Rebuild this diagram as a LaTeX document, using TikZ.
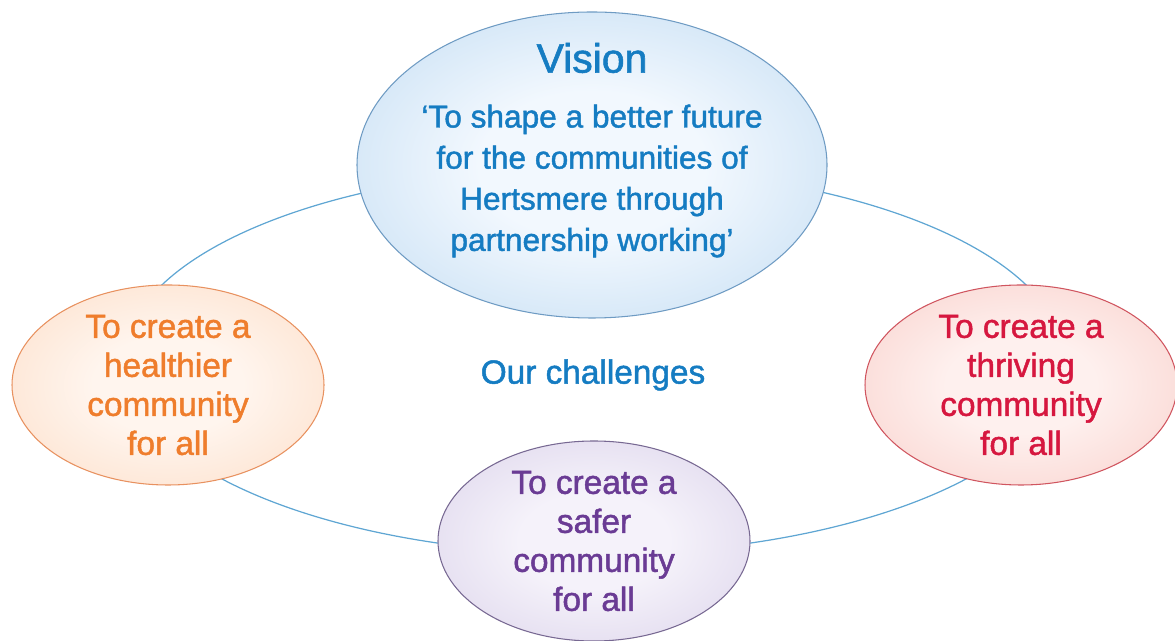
\documentclass[tikz,border=0pt]{standalone}
\usepackage{fontspec}
\setmainfont{Liberation Sans}[FakeBold=1.4]
\usetikzlibrary{shapes.geometric}

\definecolor{ringblue}{HTML}{5FA6D3}
\definecolor{visionblue}{HTML}{157CC2}
\definecolor{visionin}{HTML}{F2F8FE}
\definecolor{visionout}{HTML}{A6CCEC}
\definecolor{visionline}{HTML}{6E9BC3}
\definecolor{healthtext}{HTML}{EF7D2C}
\definecolor{healthin}{HTML}{FFF5EE}
\definecolor{healthout}{HTML}{FBD1B2}
\definecolor{healthline}{HTML}{E8915F}
\definecolor{thrivetext}{HTML}{D6173F}
\definecolor{thrivein}{HTML}{FEF0EE}
\definecolor{thriveout}{HTML}{F6BFB8}
\definecolor{thriveline}{HTML}{D0555F}
\definecolor{safetext}{HTML}{6A3B94}
\definecolor{safein}{HTML}{F5F2FA}
\definecolor{safeout}{HTML}{CDC2E2}
\definecolor{safeline}{HTML}{776892}

\pgfdeclareradialshading{visionglow}{\pgfpoint{0bp}{0bp}}{color(0bp)=(visionin); color(12bp)=(visionin); color(50bp)=(visionout)}
\pgfdeclareradialshading{healthglow}{\pgfpoint{0bp}{0bp}}{color(0bp)=(healthin); color(12bp)=(healthin); color(50bp)=(healthout)}
\pgfdeclareradialshading{thriveglow}{\pgfpoint{0bp}{0bp}}{color(0bp)=(thrivein); color(12bp)=(thrivein); color(50bp)=(thriveout)}
\pgfdeclareradialshading{safeglow}{\pgfpoint{0bp}{0bp}}{color(0bp)=(safein); color(12bp)=(safein); color(50bp)=(safeout)}

\begin{document}
\begin{tikzpicture}
    % Stili
    \tikzstyle{ring}=[ellipse, draw=ringblue, line width=0.7pt, inner sep=0pt, minimum width=18.8cm, minimum height=7.72cm]
    \tikzstyle{bubble}=[ellipse, line width=0.6pt, inner sep=0pt, minimum width=6.24cm, minimum height=4cm]
    \tikzstyle{visionbox}=[bubble, draw=visionline, shading=visionglow, minimum width=9.4cm, minimum height=6.12cm]
    \tikzstyle{healthbox}=[bubble, draw=healthline, shading=healthglow]
    \tikzstyle{thrivebox}=[bubble, draw=thriveline, shading=thriveglow]
    \tikzstyle{safebox}=[bubble, draw=safeline, shading=safeglow]
    \tikzstyle{goal}=[align=center, inner sep=0pt, font=\fontsize{19}{22.2}\selectfont]

    \useasboundingbox (0,0) rectangle (23.5,12.82);

    % Anello delle sfide
    \node[ring] (ring) at (11.88,5.6) {};

    % Ellissi
    \node[visionbox] (vision) at (11.84,9.52) {};
    \node[healthbox] (health) at (3.36,5.12) {};
    \node[thrivebox] (thrive) at (20.42,5.12) {};
    \node[safebox] (safe) at (11.88,2.0) {};

    % Testi
    \node[text=visionblue, inner sep=0pt, font=\fontsize{23.3}{28}\selectfont] (visiontitle) at (11.84,11.66) {Vision};
    \node[goal, text=visionblue, font=\fontsize{18}{23.4}\selectfont] (visiontext) at (11.84,9.2) {‘To shape a better future\\for the communities of\\Hertsmere through\\partnership working’};
    \node[goal, text=healthtext] (healthtext) at (health) {To create a\\healthier\\community\\for all};
    \node[goal, text=thrivetext] (thrivetext) at (thrive) {To create a\\thriving\\community\\for all};
    \node[goal, text=safetext] (safetext) at (safe) {To create a\\safer\\community\\for all};
    \node[goal, text=visionblue] (challenges) at (11.86,5.32) {Our challenges};
\end{tikzpicture}
\end{document}
